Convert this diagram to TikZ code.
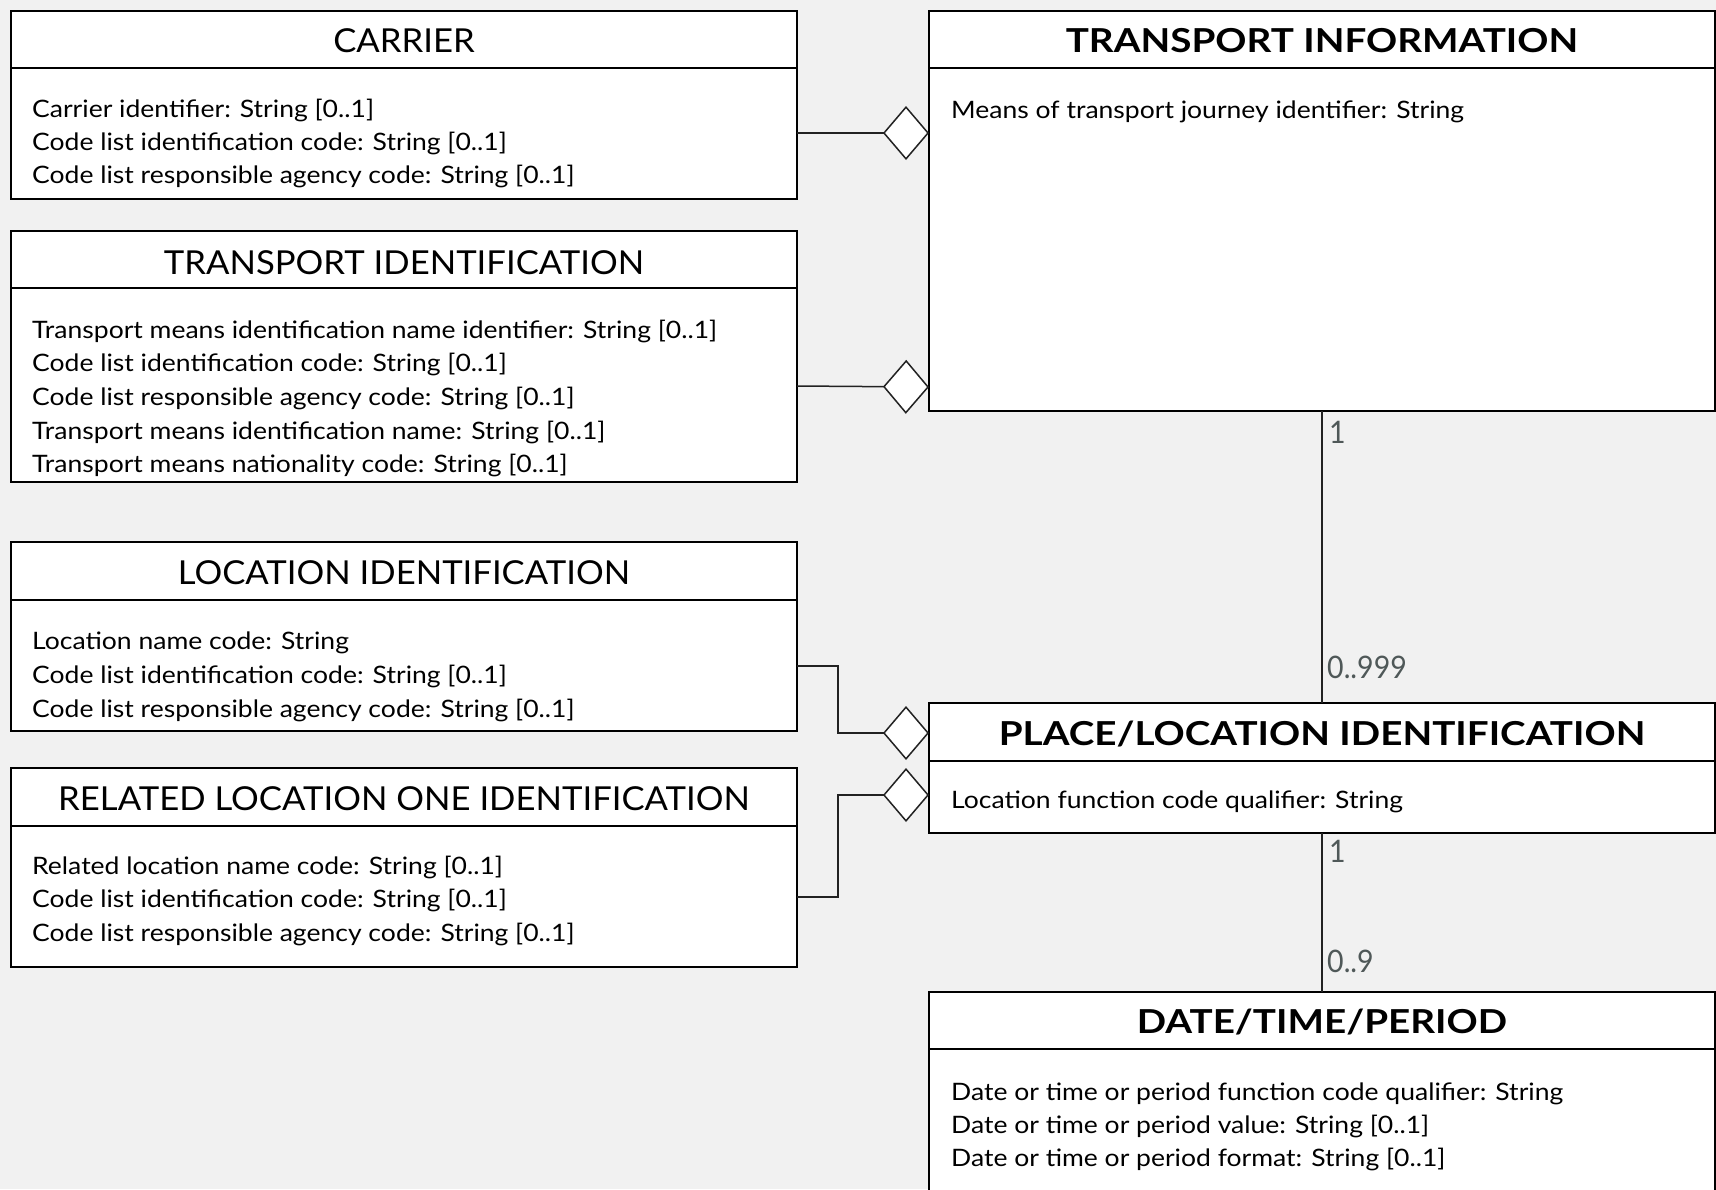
\documentclass[tikz,border=0pt]{standalone}
\usepackage{fontspec}
\setmainfont{Lato}
\newfontfamily\bodyf[FakeStretch=1.105]{Lato}
\newfontfamily\titlef[FakeStretch=1.05]{Lato}
\newfontfamily\titlebf[FakeStretch=1.17]{Lato}
\newfontfamily\multf[FakeStretch=0.92]{Lato}
\usetikzlibrary{arrows.meta}
\definecolor{bg}{HTML}{F1F1F1}
\definecolor{lbl}{HTML}{4F5858}
\definecolor{lnk}{HTML}{222222}
\begin{document}
\begin{tikzpicture}[x=1pt,y=-1pt,
  cls/.style={draw=black, fill=white, line width=2pt, inner sep=0pt, outer sep=0pt, anchor=north west, minimum width=786pt},
  divider/.style={line width=2pt, draw=black},
  ttl/.style={font=\titlef\fontsize{33}{40}\selectfont, anchor=base, inner sep=0pt},
  ttlb/.style={font=\titlebf\fontsize{33}{40}\selectfont\bfseries, anchor=base, inner sep=0pt},
  attr/.style={font=\bodyf\fontsize{24}{30}\selectfont, anchor=base west, inner sep=0pt},
  mult/.style={font=\multf\fontsize{31}{36}\selectfont, text=lbl, anchor=base west, inner sep=0pt},
  link/.style={line width=1.5pt, draw=lnk},
  agg/.style={link, -{Diamond[fill=white, length=46pt, width=54pt]}}
]
\fill[bg] (0,0) rectangle (1716,1189);
\useasboundingbox (0,0) rectangle (1716,1189);

% ---------- CARRIER
\node[cls, minimum height=188pt] (carrier) at (11,11) {};
\draw[divider] (carrier.west |- 0,68) -- (carrier.east |- 0,68);
\node[ttl] (carrier-t) at (404,52) {CARRIER};
\foreach \t [count=\i] in {{Carrier identifier: String [0..1]},{Code list identification code: String [0..1]},{Code list responsible agency code: String [0..1]}}
  \node[attr] (carrier-a\i) at (32,{117+33.3*(\i-1)}) {\t};

% ---------- TRANSPORT IDENTIFICATION
\node[cls, minimum height=251pt] (transid) at (11,231) {};
\draw[divider] (transid.west |- 0,288) -- (transid.east |- 0,288);
\node[ttl] (transid-t) at (404,274) {TRANSPORT IDENTIFICATION};
\foreach \t [count=\i] in {{Transport means identification name identifier: String [0..1]},{Code list identification code: String [0..1]},{Code list responsible agency code: String [0..1]},{Transport means identification name: String [0..1]},{Transport means nationality code: String [0..1]}}
  \node[attr] (transid-a\i) at (32,{338+33.7*(\i-1)}) {\t};

% ---------- LOCATION IDENTIFICATION
\node[cls, minimum height=189pt] (locid) at (11,542) {};
\draw[divider] (locid.west |- 0,600) -- (locid.east |- 0,600);
\node[ttl] (locid-t) at (404,584) {LOCATION IDENTIFICATION};
\foreach \t [count=\i] in {{Location name code: String},{Code list identification code: String [0..1]},{Code list responsible agency code: String [0..1]}}
  \node[attr] (locid-a\i) at (32,{649+34*(\i-1)}) {\t};

% ---------- RELATED LOCATION ONE IDENTIFICATION
\node[cls, minimum height=199pt] (relloc) at (11,768) {};
\draw[divider] (relloc.west |- 0,826) -- (relloc.east |- 0,826);
\node[ttl] (relloc-t) at (404,810) {RELATED LOCATION ONE IDENTIFICATION};
\foreach \t [count=\i] in {{Related location name code: String [0..1]},{Code list identification code: String [0..1]},{Code list responsible agency code: String [0..1]}}
  \node[attr] (relloc-a\i) at (32,{874+33.5*(\i-1)}) {\t};

% ---------- TRANSPORT INFORMATION
\node[cls, minimum height=400pt] (transinfo) at (929,11) {};
\draw[divider] (transinfo.west |- 0,68) -- (transinfo.east |- 0,68);
\node[ttlb] (transinfo-t) at (1322,52) {TRANSPORT INFORMATION};
\node[attr] (transinfo-a1) at (951,118) {Means of transport journey identifier: String};

% ---------- PLACE/LOCATION IDENTIFICATION
\node[cls, minimum height=130pt] (place) at (929,703) {};
\draw[divider] (place.west |- 0,761) -- (place.east |- 0,761);
\node[ttlb] (place-t) at (1322,745) {PLACE/LOCATION IDENTIFICATION};
\node[attr] (place-a1) at (951,808) {Location function code qualifier: String};

% ---------- DATE/TIME/PERIOD
\node[cls, minimum height=220pt] (date) at (929,992) {};
\draw[divider] (date.west |- 0,1049) -- (date.east |- 0,1049);
\node[ttlb] (date-t) at (1322,1033) {DATE/TIME/PERIOD};
\foreach \t [count=\i] in {{Date or time or period function code qualifier: String},{Date or time or period value: String [0..1]},{Date or time or period format: String [0..1]}}
  \node[attr] (date-a\i) at (951,{1100+33*(\i-1)}) {\t};

% ---------- connectors
\draw[agg] (carrier.east |- 0,133) -- (transinfo.west |- 0,133);
\draw[agg] (transid.east |- 0,386) -- (transinfo.west |- 0,387);
\draw[agg] (locid.east |- 0,666) -| (838,700) |- (place.west |- 0,733);
\draw[agg] (relloc.east |- 0,897) -| (838,850) |- (place.west |- 0,795);
\draw[link] (transinfo.south) -- (place.north);
\draw[link] (place.south) -- (date.north);

% ---------- multiplicities
\node[mult] (m1) at (1329,443) {1};
\node[mult] (m2) at (1327,678) {0..999};
\node[mult] (m3) at (1329,862) {1};
\node[mult] (m4) at (1327,972) {0..9};
\end{tikzpicture}
\end{document}
